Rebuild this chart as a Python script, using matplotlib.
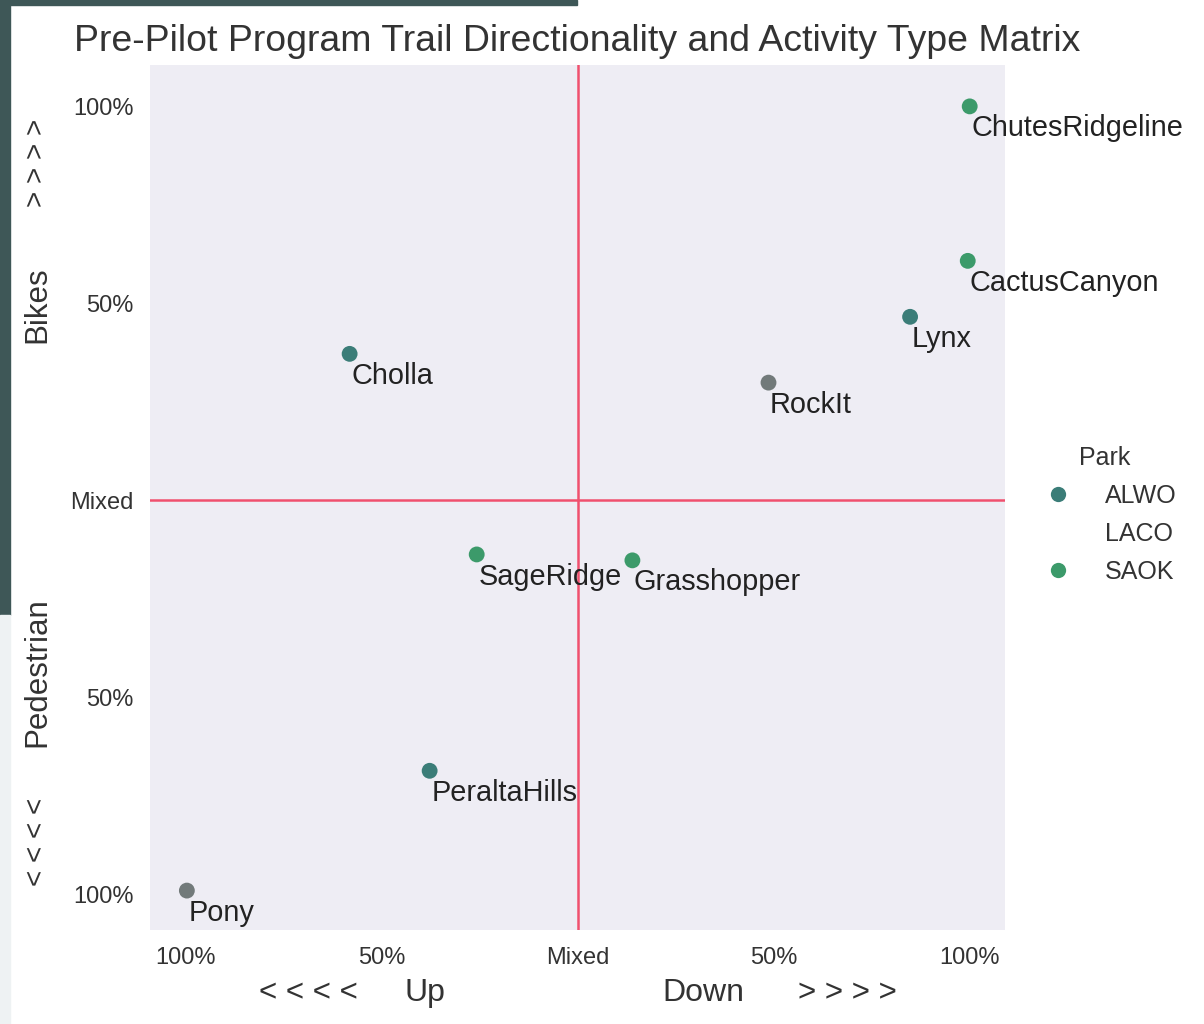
import matplotlib
matplotlib.use("Agg")
import matplotlib.pyplot as plt
from matplotlib.patches import Rectangle
from matplotlib.lines import Line2D

plt.rcParams['font.family'] = ['Liberation Sans', 'DejaVu Sans']

trails = ["ChutesRidgeline", "CactusCanyon", "Lynx", "RockIt", "Cholla",
          "SageRidge", "Grasshopper", "PeraltaHills", "Pony"]
direction = [1.0, 0.995, 0.848, 0.487, -0.581, -0.257, 0.140, -0.377, -0.996]
activity = [1.0, 0.608, 0.466, 0.299, 0.372, -0.137, -0.152, -0.686, -0.99]
park = ["SAOK", "SAOK", "ALWO", "LACO", "ALWO", "SAOK", "SAOK", "ALWO", "LACO"]
park_names = ["ALWO", "LACO", "SAOK"]
park_colors = {"ALWO": "#3b7d78", "LACO": "#727a7a", "SAOK": "#3c9a6a"}
tick_vals = [-1, -0.5, 0, 0.5, 1]
tick_labels = ["100%", "50%", "Mixed", "50%", "100%"]

fig = plt.figure(figsize=(12.04, 10.24), dpi=100)
fig.patch.set_facecolor("white")
# dark frame fragment in the top-left
fig.patches.append(Rectangle((0, 1 - 5/1024), 577/1204, 5/1024, transform=fig.transFigure,
                             color="#3e5757", zorder=0))
fig.patches.append(Rectangle((0, 1 - 615/1024), 10/1204, 615/1024, transform=fig.transFigure,
                             color="#3e5757", zorder=0))
fig.patches.append(Rectangle((0, 0), 10/1204, 1 - 615/1024, transform=fig.transFigure,
                             color="#eef2f3", zorder=0))

ax = fig.add_axes([150/1204, 94/1024, 855/1204, 865/1024])
ax.set_facecolor("#eeedf4")
for s in ax.spines.values():
    s.set_visible(False)

ax.axvline(0, color="#f0506e", lw=1.8, zorder=1)
ax.axhline(0, color="#f0506e", lw=1.8, zorder=1)

for t, x, y, p in zip(trails, direction, activity, park):
    ax.scatter(x, y, s=130, color=park_colors[p], edgecolor="none", zorder=3)
    ax.text(x + 0.004, y - 0.056, t, fontsize=20.8, color="#222222",
            ha="left", va="center", zorder=4)

ax.set_xlim(-1.09, 1.09)
ax.set_ylim(-1.09, 1.105)
ax.set_xticks(tick_vals)
ax.set_xticklabels(tick_labels)
ax.set_yticks(tick_vals)
ax.set_yticklabels(tick_labels)
ax.tick_params(length=0, labelsize=17, labelcolor="#333333", pad=12)
ax.set_title("Pre-Pilot Program Trail Directionality and Activity Type Matrix",
             fontsize=26.9, color="#333333", pad=10)

# axis descriptor texts
c = "#333333"
fig.text(308/1204, 1 - 993/1024, "< < < <", fontsize=22.5, color=c, ha="center", va="center")
fig.text(425/1204, 1 - 993/1024, "Up", fontsize=23, color=c, ha="center", va="center")
fig.text(703/1204, 1 - 993/1024, "Down", fontsize=23, color=c, ha="center", va="center")
fig.text(847/1204, 1 - 993/1024, "> > > >", fontsize=22.5, color=c, ha="center", va="center")
fig.text(37/1204, 1 - 163/1024, "> > > >", fontsize=20, color=c, ha="center", va="center", rotation=90)
fig.text(37/1204, 1 - 305/1024, "Bikes", fontsize=22.5, color=c, ha="center", va="center", rotation=90)
fig.text(37/1204, 1 - 672/1024, "Pedestrian", fontsize=22.5, color=c, ha="center", va="center", rotation=90)
fig.text(37/1204, 1 - 842/1024, "< < < <", fontsize=20, color=c, ha="center", va="center", rotation=90)

handles = []
for name in park_names:
    alpha = 0.0 if name == "LACO" else 1.0
    handles.append(Line2D([], [], marker="o", linestyle="none", markersize=11,
                          markerfacecolor=park_colors[name], markeredgecolor="none",
                          alpha=alpha, label=name))
leg = fig.legend(handles=handles, title="Park", loc="center left",
                 bbox_to_anchor=(1010/1204, 1 - 515/1024), frameon=False,
                 fontsize=18, title_fontsize=18, labelspacing=0.55, handletextpad=0.9)
for txt in leg.get_texts():
    txt.set_color(c)
leg.get_title().set_color(c)

fig.savefig("out.png", dpi=100)
